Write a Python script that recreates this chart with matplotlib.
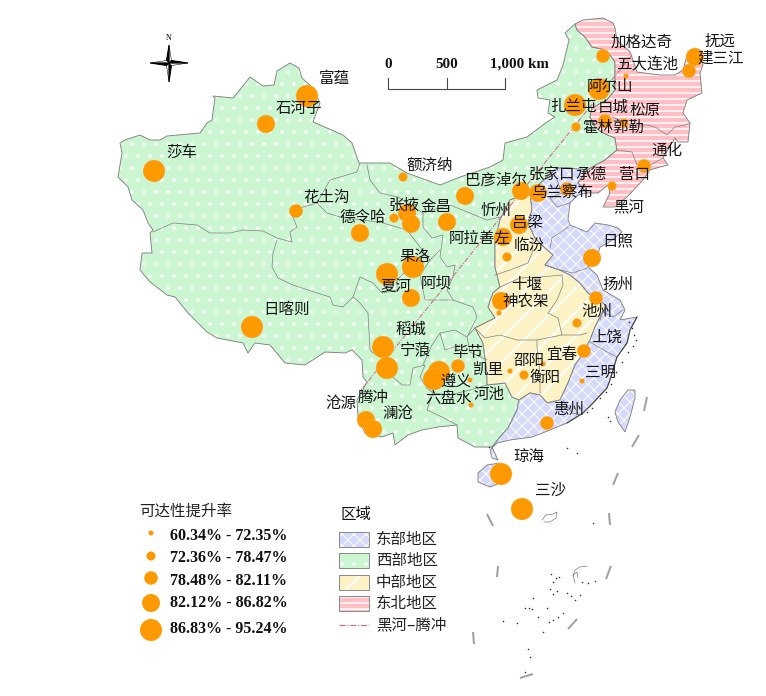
import matplotlib
matplotlib.use("Agg")
import matplotlib.pyplot as plt
from matplotlib.patches import Polygon

plt.rcParams['font.family'] = ['Noto Sans CJK SC', 'DejaVu Sans']

###### map data, in picture coordinates #####
west_outline = [(120,143),(125,140),(140,135),(150,140),(160,140),(167,136),(200,133),(207,123),(212,120),(215,98),(213,96),
    (233,98),(238,92),(250,77),(263,86),(274,85),(277,71),(290,63),(299,68),(302,78),(313,88),(320,103),(313,122),(327,128),
    (343,135),(352,143),(359,163),(367,163),(390,163),(407,173),(440,185),(460,177),(490,167),(503,160),(505,143),(527,137),
    (547,122),(555,117),(548,113),(550,100),(538,98),(537,90),(557,80),(563,65),(569,40),(565,33),(575,24),(577,30),(585,37),
    (592,47),(602,49),(610,55),(615,62),(615,90),(607,100),(592,108),(590,117),(595,127),(603,133),(615,138),(617,150),(605,160),
    (587,170),(567,168),(557,168),(547,177),(530,193),(510,200),(500,220),(495,240),(495,267),(500,287),(493,293),(488,307),
    (495,318),(475,328),(483,343),(487,373),(487,385),(505,383),(512,397),(519,400),(517,410),(508,428),(500,437),(492,447),
    (475,447),(458,438),(457,425),(438,427),(422,430),(408,435),(395,445),(393,433),(382,437),(365,433),(358,417),(357,400),
    (367,382),(363,377),(362,360),(352,350),(345,353),(325,352),(305,365),(285,363),(270,345),(255,343),(248,353),(243,343),
    (217,338),(207,332),(188,313),(175,297),(167,295),(150,282),(140,270),(142,253),(152,253),(150,233),(153,230),(148,223),
    (143,210),(132,200),(128,187),(118,177),(122,153)]
northeast_outline = [(575,24),(583,20),(603,18),(613,23),(615,28),(617,40),(630,52),(633,60),(637,72),(660,75),(675,75),(683,70),
    (688,52),(695,48),(703,65),(700,73),(702,93),(687,100),(683,113),(690,123),(688,142),(678,142),(675,138),(663,158),(668,165),
    (660,167),(650,170),(643,180),(627,197),(615,207),(603,207),(605,203),(610,193),(608,185),(598,193),(587,193),(578,183),
    (587,170),(605,160),(617,150),(615,138),(603,133),(595,127),(590,117),(592,108),(607,100),(615,90),(615,62),(610,55),(602,49),
    (592,47),(585,37),(577,30)]
central_outline = [(530,193),(510,200),(500,220),(495,240),(495,267),(500,287),(493,293),(488,307),(495,318),(475,328),(483,343),
    (487,373),(487,385),(505,383),(512,397),(519,400),(530,393),(540,395),(547,403),(560,400),(568,383),(575,365),(580,358),(590,340),
    (595,327),(602,313),(607,307),(600,300),(588,293),(580,283),(570,275),(560,270),(545,265),(553,255),(545,248),(535,238),(528,223),
    (532,210)]
east_outline = [(530,193),(547,177),(557,168),(567,168),(587,170),(578,183),(587,193),(578,195),(570,203),(568,220),(570,225),(587,232),
    (595,223),(608,225),(618,228),(622,232),(608,243),(600,247),(597,257),(588,267),(597,275),(603,290),(620,300),(625,310),(620,320),
    (637,317),(630,330),(627,343),(617,357),(610,380),(607,388),(593,403),(583,413),(567,423),(545,432),(532,437),(510,440),(497,443),
    (490,450),(492,458),(498,460),(492,447),(500,437),(508,428),(517,410),(519,400),(530,393),(540,395),(547,403),(560,400),(568,383),
    (575,365),(580,358),(590,340),(595,327),(602,313),(607,307),(600,300),(588,293),(580,283),(570,275),(560,270),(545,265),(553,255),
    (545,248),(535,238),(528,223),(532,210)]
taiwan_outline = [(628,390),(635,390),(635,398),(630,417),(625,432),(618,422),(615,412),(620,400)]
hainan_outline = [(478,473),(487,465),(500,463),(512,473),(500,483),(490,487),(478,482)]
dongsha_outline = [(542,520),(546,515),(553,514),(557,512),(556,518),(550,522),(544,522)]
reef_curve = [(573,576),(575,570),(580,567),(587,566)]
reef_curve2 = [(575,583),(573,575),(577,572),(578,578)]
coast_south = [(637,317),(630,330),(627,343),(617,357),(610,380),(607,388),(593,403),(583,413),(567,423)]

province_borders = [
    [(153,232),(173,223),(197,225),(210,233),(230,233),(243,230),(263,231),(277,238),(292,242),(290,232),(297,227),(290,210),(303,207),
     (317,203),(330,180),(357,172),(360,163)],
    [(277,240),(273,253),(272,267),(278,278),(293,285),(317,293),(330,297),(333,305),(343,307),(353,297),(360,277),(373,283),(382,293),
     (397,290),(397,280),(410,267),(430,260)],
    [(317,203),(327,213),(340,217),(363,220),(383,223),(407,230),(420,247),(430,260),(440,250)],
    [(367,165),(370,180),(380,193),(398,197),(423,213),(423,227),(432,238),(443,235),(440,257),(447,267),(455,265)],
    [(423,213),(450,205),(487,220),(500,217)],
    [(353,297),(360,303),(368,313),(370,350),(373,353),(385,358),(393,377),(402,385),(410,385),(413,368),(425,365),(423,370),(420,377),
     (427,388),(433,393),(427,410),(442,417),(457,425)],
    [(430,260),(420,275),(425,300),(453,300),(473,307),(477,317),(467,337),(475,328)],
    [(455,265),(453,277),(447,290),(453,300)],
    [(440,333),(455,330),(467,337),(470,352),(487,360)],
    [(423,365),(432,345),(440,333),(445,350),(460,345)],
    [(433,393),(450,395),(470,390),(487,385)],
    [(495,275),(510,270),(528,263),(532,253),(533,240)],
    [(500,287),(520,278),(540,277),(562,275),(563,285),(557,300),(548,313),(558,318)],
    [(475,328),(485,338),(500,335),(517,340),(537,340),(562,335),(558,318)],
    [(562,335),(580,335),(587,333)],
    [(537,340),(537,347),(540,373),(540,393)],
    [(545,265),(560,270),(573,273),(587,268)],
    [(550,248),(552,238),(568,227)],
    [(557,180),(562,193),(550,198),(557,207),(570,203)],
    [(603,312),(613,317),(623,310)],
    [(590,342),(607,352),(617,357)],
    [(563,400),(572,413),(580,415)],
    [(607,305),(603,312),(600,320)],
    [(612,117),(632,125),(647,125),(655,127),(667,135),(675,127),(685,125),(690,123)],
    [(617,150),(632,152),(637,165),(647,167),(663,158)],
]

dash_x = [(487,493),(498,497),(473,474),(520,533),(577,568),(611,606),(609,610),(618,613),(639,632),(647,644)]
dash_y = [(514,526),(566,577),(632,644),(678,674),(619,629),(566,579),(513,525),(473,485),(435,447),(397,411)]

island_x = [567,577,593,551,556,553,559,550,557,553,533,525,529,532,503,517,538,547,549,553,558,563,567,571,575,580,582,
    588,595,528,530,525,543,629,632,634,636,633,628,622,616,611,606,600,592,587,610,608,489]
island_y = [448,453,523,574,578,582,577,589,591,594,598,608,608,609,621,623,617,608,622,620,617,613,593,596,600,595,582,
    583,581,649,657,672,632,322,328,335,340,346,352,362,372,384,392,398,408,412,421,417,447]

hu_x = [632,361]
hu_y = [55,390]

###### cities: position of the mark, accessibility class (0-4) #####
city_x = [307,266,154,296,403,360,407,394,411,447,465,387,413,411,501,499,507,503,519,521,538,567,612,644,603,626,689,695,599,575,
    605,624,576,592,596,577,584,582,547,524,543,510,471,458,439,434,470,383,387,366,373,501,522,252]
city_y = [96,124,171,211,177,233,213,218,224,222,196,274,267,298,301,313,257,237,225,191,193,189,186,166,56,76,71,57,89,105,
    121,123,127,258,298,323,351,381,423,375,364,371,405,366,372,379,380,347,368,420,429,474,509,327]
city_class = [4,3,4,2,1,3,3,1,3,3,3,4,4,3,3,0,1,3,3,3,3,2,1,2,2,0,2,3,4,4,2,1,1,3,2,1,2,0,2,1,0,0,0,2,4,4,0,4,4,3,3,4,4,4]
class_diam = [5,9,13.5,18,22]

label_text = ['加格达奇','抚远','五大连池','建三江','阿尔山','扎兰屯','白城','松原','霍林郭勒','通化','承德','张家口','巴彦淖尔','营口',
    '乌兰察布','黑河','忻州','吕梁','阿拉善左','临汾','日照','额济纳','金昌','张掖','德令哈','花土沟','果洛','夏河','阿坝','富蕴','石河子','莎车',
    '日喀则','十堰','扬州','神农架','池州','稻城','宁蒗','上饶','毕节','宜春','邵阳','凯里','三明','衡阳','遵义','腾冲','沧源','六盘水','河池',
    '澜沧','惠州','琼海','三沙']
label_x = [642,720,647,721,610,573,613,645,613,667,591,552,496,634,562,629,496,528,480,529,618,430,436,404,363,327,415,396,436,334,
    299,182,287,527,618,526,597,411,415,607,468,562,529,488,601,545,456,373,341,449,489,398,569,529,550]
label_y = [42,41,65,58,87,107,107,110,127,150,174,174,180,174,192,208,210,222,238,245,241,165,207,205,217,197,256,287,283,78,
    108,152,309,284,284,301,311,329,350,337,352,354,360,369,372,377,381,397,403,398,394,413,409,456,490]

rate_labels = ['60.34% - 72.35%','72.36% - 78.47%','78.48% - 82.11%','82.12% - 86.82%','86.83% - 95.24%']
rate_mark_y = [533,556,578,603,630]
rate_text_y = [536,558,581,603,629]
region_labels = ['东部地区','西部地区','中部地区','东北地区']

east_style = dict(facecolor='#d5dafd', hatch='xx')
west_style = dict(facecolor='#ccf6d2', hatch='.')
central_style = dict(facecolor='#fbf3c6', hatch='/')
northeast_style = dict(facecolor='#ffbfc4', hatch='--')
hatch_widths = {'xx':1.0, '.':1.0, '/':2.0, '--':1.5}
border_color = '#808080'
serif_bold = dict(family='Liberation Serif', fontweight='bold', color='#111111')

fig = plt.figure(figsize=(766/72, 696/72), dpi=72)
ax = fig.add_axes([0, 0, 1, 1])
ax.set_xlim(0, 766)
ax.set_ylim(696, 0)
ax.axis('off')


def add_region(points, style, zorder=1):
    plt.rcParams['hatch.linewidth'] = hatch_widths[style['hatch']]
    ax.add_patch(Polygon(points, closed=True, edgecolor='white', linewidth=0, zorder=zorder, **style))
    ax.add_patch(Polygon(points, closed=True, fill=False, edgecolor=border_color, linewidth=0.9, zorder=zorder+0.5))


add_region(west_outline, west_style)
add_region(central_outline, central_style, 2)
add_region(east_outline, east_style, 3)
add_region(taiwan_outline, east_style, 3)
add_region(hainan_outline, east_style, 3)
add_region(northeast_outline, northeast_style, 3)

for border in province_borders:
    ax.plot([p[0] for p in border], [p[1] for p in border], color=border_color, lw=0.7, zorder=4)
ax.plot([p[0] for p in coast_south], [p[1] for p in coast_south], color='#444444', lw=1.1, zorder=4)
for curve in [dongsha_outline, reef_curve, reef_curve2]:
    ax.plot([p[0] for p in curve], [p[1] for p in curve], color='#666666', lw=0.6, zorder=4)
for xs, ys in zip(dash_x, dash_y):
    ax.plot(xs, ys, color='#a0a0a0', lw=2, zorder=4, solid_capstyle='butt')
ax.scatter(island_x, island_y, s=2.5, color='#333333', linewidths=0, zorder=4)
ax.plot(hu_x, hu_y, color='#cf6a85', lw=1, ls=(0, (5, 1.5, 1, 1.5)), zorder=5)

## accessibility marks
ax.scatter(city_x, city_y, s=[class_diam[c]**2 for c in city_class], color='#ff9900', edgecolors='#e8c48c',
           linewidths=0.3, zorder=6)

for text, x, y in zip(label_text, label_x, label_y):
    ax.text(x, y, text, fontsize=15.5, ha='center', va='center', color='#151515', zorder=7)

## legend: accessibility
ax.text(139, 511, '可达性提升率', fontsize=15.5, va='center', color='#222222')
ax.scatter([151]*5, rate_mark_y, s=[d**2 for d in class_diam], color='#ff9900', linewidths=0)
for text, y in zip(rate_labels, rate_text_y):
    ax.text(170, y, text, fontsize=16, va='center', **serif_bold)

## legend: regions
ax.text(340, 514, '区域', fontsize=15.5, va='center', color='#111111')
styles = [east_style, west_style, central_style, northeast_style]
for i, (label, style) in enumerate(zip(region_labels, styles)):
    top = 532 + i*21.3
    add_region([(339, top), (369, top), (369, top+15), (339, top+15)], style)
    ax.text(376, top+7.5, label, fontsize=15.5, va='center', color='#222222')
ax.plot([339, 369], [625, 625], color='#cf6a85', lw=1.2, ls=(0, (5, 1.5, 1, 1.5)))
ax.text(376, 625, '黑河–腾冲', fontsize=15.5, va='center', color='#222222')

## scale bar
ax.plot([388, 388, 505, 505], [78, 89, 89, 78], color='#444444', lw=1.1)
ax.plot([447, 447], [78, 89], color='#444444', lw=1.1)
ax.text(388, 64, '0', fontsize=15, ha='center', va='center', **serif_bold)
ax.text(447, 64, '500', fontsize=15, ha='center', va='center', **serif_bold)
ax.text(519, 64, '1,000 km', fontsize=15, ha='center', va='center', **serif_bold)

## north arrow
cx, cy = 169, 63
arm_n, arm_s, arm_e, arm_w = 18, 19, 19, 19
w = 2.5
ax.add_patch(Polygon([(cx, cy-arm_n), (cx+w, cy-w), (cx, cy)], color='white', ec='black', lw=0.5))
ax.add_patch(Polygon([(cx, cy-arm_n), (cx-w, cy-w), (cx, cy)], color='black'))
ax.add_patch(Polygon([(cx, cy+arm_s), (cx-w, cy+w), (cx, cy)], color='white', ec='black', lw=0.5))
ax.add_patch(Polygon([(cx, cy+arm_s), (cx+w, cy+w), (cx, cy)], color='black'))
ax.add_patch(Polygon([(cx+arm_e, cy), (cx+w, cy+w), (cx, cy)], color='white', ec='black', lw=0.5))
ax.add_patch(Polygon([(cx+arm_e, cy), (cx+w, cy-w), (cx, cy)], color='black'))
ax.add_patch(Polygon([(cx-arm_w, cy), (cx-w, cy-w), (cx, cy)], color='white', ec='black', lw=0.5))
ax.add_patch(Polygon([(cx-arm_w, cy), (cx-w, cy+w), (cx, cy)], color='black'))
ax.text(169, 38, 'N', fontsize=8, ha='center', va='center', family='Liberation Serif')

fig.savefig('out.png', dpi=72)
